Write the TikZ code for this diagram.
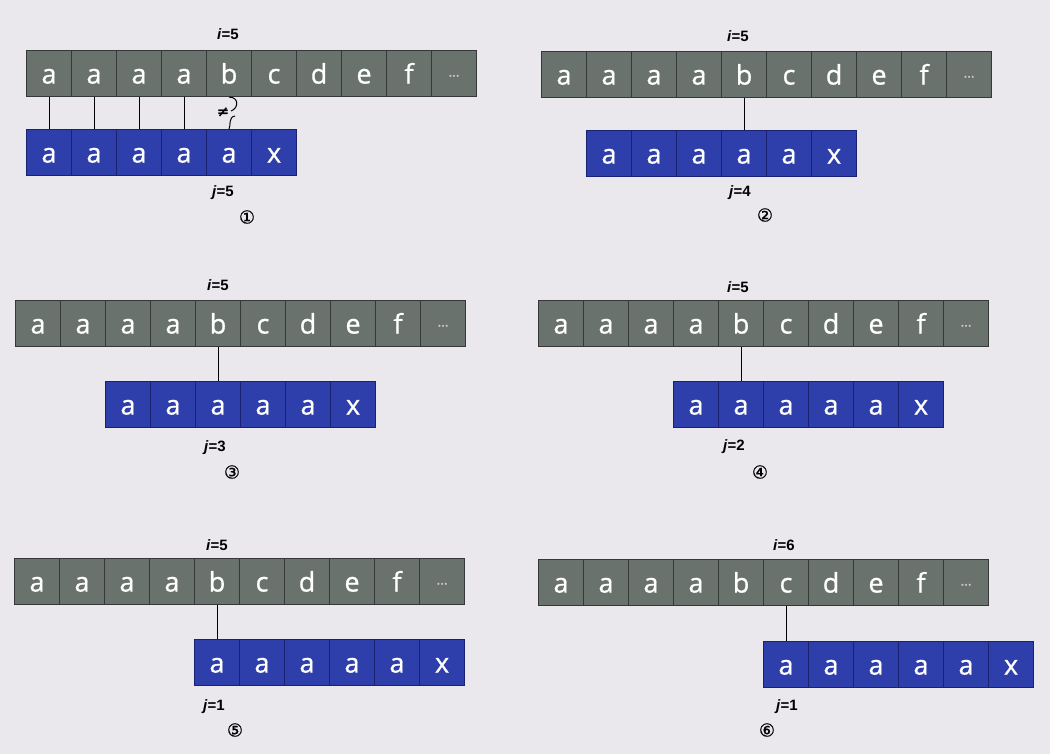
\documentclass[tikz,border=0pt]{standalone}
\usepackage{fontspec}
\newfontfamily\cellfont{Open Sans}[FakeBold=0.8]
\newfontfamily\lblfont{Liberation Sans}
\newfontfamily\circfont{DejaVu Sans}[FakeBold=0.6]
\definecolor{pagebg}{RGB}{234,231,237}
\definecolor{gfill}{RGB}{106,114,110}
\definecolor{gborder}{RGB}{52,57,55}
\definecolor{bfill}{RGB}{46,62,170}
\definecolor{bborder}{RGB}{24,34,112}
\definecolor{dotcol}{RGB}{200,204,202}
\tikzset{
  cellbase/.style={minimum width=45, minimum height=46, inner sep=0pt,
    anchor=north west, text=white, line width=1.1pt,
    font=\cellfont\fontsize{27}{27}\selectfont, text height=20pt, text depth=0pt},
  gcell/.style={cellbase, draw=gborder, fill=gfill},
  bcell/.style={cellbase, draw=bborder, fill=bfill},
  dotcell/.style={text=dotcol, font=\cellfont\fontsize{14}{14}\selectfont, text height=6pt},
  lbl/.style={font=\lblfont\bfseries\fontsize{15}{15}\selectfont, inner sep=0pt},
  circ/.style={font=\circfont\fontsize{18}{18}\selectfont, inner sep=0pt},
  conn/.style={draw=black, line width=1pt}
}
\newcommand\mypanel[5]{%
  \foreach \c [count=\k] in {a,a,a,a,b,c,d,e,f}
    \node[gcell] (#1g\k) at ({#2+45*(\k-1)},#3) {\c};
  \node[gcell, dotcell] (#1g10) at ({#2+405},#3) {\dots};
  \foreach \c [count=\k] in {a,a,a,a,a,x}
    \node[bcell] (#1b\k) at ({#4+45*(\k-1)},#5) {\c};
}
\begin{document}
\begin{tikzpicture}[x=1pt,y=-1pt]
\useasboundingbox (0,0) rectangle (1050,754);
\fill[pagebg] (0,0) rectangle (1050,754);

% Panel 1
\mypanel{p}{26}{50}{26}{129}
\node[lbl] (pi) at (228,34) {\textit{i}=5};
\node[lbl] (pj) at (223,193) {\textit{j}=5};
\node[circ] (pn) at (247,217) {①};
\foreach \k in {1,2,3,4}
  \draw[conn] (pg\k.south) -- (pb\k.north);
\node[font=\circfont\fontsize{15}{15}\selectfont, inner sep=0pt] (neq) at (223,112) {≠};
\draw[conn] (pg5.south) .. controls (239,97) and (239,108) .. (231,111);
\draw[conn] (235,116) .. controls (228,117) and (231,126) .. (pb5.north);

% Panel 2
\mypanel{q}{541}{51}{586}{130}
\node[lbl] (qi) at (738,36) {\textit{i}=5};
\node[lbl] (qj) at (740,193) {\textit{j}=4};
\node[circ] (qn) at (765,215) {②};
\draw[conn] (qg5.south) -- (qb4.north);

% Panel 3
\mypanel{r}{15}{300}{105}{381}
\node[lbl] (ri) at (218,285) {\textit{i}=5};
\node[lbl] (rj) at (215,448) {\textit{j}=3};
\node[circ] (rn) at (232,472) {③};
\draw[conn] (rg5.south) -- (rb3.north);

% Panel 4
\mypanel{s}{538}{300}{673}{381}
\node[lbl] (si) at (738,287) {\textit{i}=5};
\node[lbl] (sj) at (734,447) {\textit{j}=2};
\node[circ] (sn) at (760,472) {④};
\draw[conn] (sg5.south) -- (sb2.north);

% Panel 5
\mypanel{t}{14}{558}{194}{639}
\node[lbl] (ti) at (217,545) {\textit{i}=5};
\node[lbl] (tj) at (214,707) {\textit{j}=1};
\node[circ] (tn) at (235,730) {⑤};
\draw[conn] (tg5.south) -- (tb1.north);

% Panel 6
\mypanel{u}{538}{559}{763}{641}
\node[lbl] (ui) at (784,545) {\textit{i}=6};
\node[lbl] (uj) at (787,707) {\textit{j}=1};
\node[circ] (un) at (767,730) {⑥};
\draw[conn] (ug6.south) -- (ub1.north);
\end{tikzpicture}
\end{document}
